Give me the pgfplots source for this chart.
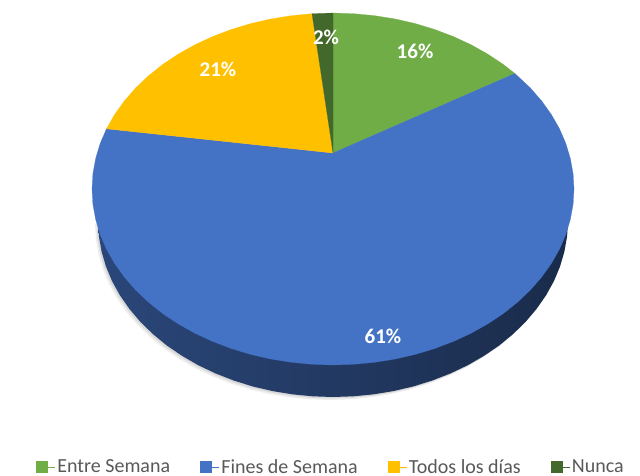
\documentclass[border=0pt]{standalone}
\usepackage{pgfplots}
\usepackage{pgfplotstable}
\usepackage{fontspec}
\setmainfont{Carlito}
\pgfplotsset{compat=1.18}
\definecolor{verde}{HTML}{70AD47}
\definecolor{azul}{HTML}{4472C4}
\definecolor{amarillo}{HTML}{FFC000}
\definecolor{oscuro}{HTML}{43682B}
\definecolor{gristexto}{HTML}{595959}

% image pixel coordinates, y downwards
\pgfplotstableread{
x y
333 153
333 13
354 13.7
374.8 15.7
395.4 19
415.4 23.6
434.8 29.5
453.5 36.6
471.2 44.8
487.9 54.2
503.4 64.5
514.9 73.5
333 153
}\entresemana

\pgfplotstableread{
x y
333 153
514.9 73.5
530.4 88
541.7 101
551.4 114.6
559.5 128.8
565.8 143.4
570.3 158.4
573.1 173.7
574 189
573.1 204.3
570.3 219.6
565.8 234.6
559.5 249.2
551.4 263.4
541.7 277
530.4 290
517.6 302.1
503.4 313.5
487.9 323.8
471.2 333.2
453.5 341.4
434.8 348.5
415.4 354.4
395.4 359
374.8 362.3
354 364.3
333 365
312 364.3
291.2 362.3
270.6 359
250.6 354.4
231.2 348.5
212.5 341.4
194.8 333.2
178.1 323.8
162.6 313.5
148.4 302.1
135.6 290
124.3 277
114.6 263.4
106.5 249.2
100.2 234.6
95.7 219.6
92.9 204.3
92 189
92.9 173.7
95.7 158.4
100.2 143.4
106.5 128.8
333 153
}\fines

\pgfplotstableread{
x y
333 153
106.5 128.8
114.6 114.6
124.3 101
135.6 88
148.4 75.9
162.6 64.5
178.1 54.2
194.8 44.8
212.5 36.6
231.2 29.5
250.6 23.6
270.6 19
291.2 15.7
312 13.7
333 153
}\todos

\pgfplotstableread{
x y
333 153
312 13.7
333 13
333 153
}\nunca

\pgfplotstableread{
x y
568 221
567.1 236.3
564.4 251.6
560 266.6
553.9 281.2
546 295.4
536.5 309
525.5 322
513 334.1
499.2 345.5
484 355.8
467.8 365.2
450.5 373.4
432.3 380.5
413.4 386.4
393.8 391
373.8 394.3
353.5 396.3
333 397
312.5 396.3
292.2 394.3
272.2 391
252.6 386.4
233.7 380.5
215.5 373.4
198.2 365.2
182 355.8
166.8 345.5
153 334.1
140.5 322
129.5 309
120 295.4
112.1 281.2
106 266.6
101.6 251.6
98.9 236.3
98 221
}\pared

\begin{document}
\begin{tikzpicture}
  \path[use as bounding box] (0,0) rectangle (640pt,475pt);
  \begin{axis}[
      scale only axis,
      width=640pt, height=475pt,
      xmin=0, xmax=640,
      ymin=0, ymax=475,
      y dir=reverse,
      hide axis,
      no markers,
      legend columns=-1,
      legend cell align=left,
      legend style={
        at={(axis cs:36,467)}, anchor=west,
        draw=none, fill=none,
        font=\fontsize{20}{20}\selectfont,
        text=gristexto,
        inner sep=0pt,
        /tikz/every even column/.append style={column sep=28pt},
      },
      legend image code/.code={
        \path (0pt,0pt) -- (19pt,0pt);
        \path[#1, draw=none] (0pt,-6pt) rectangle (12pt,6pt);
      },
    ]
    % soft shadow under the side wall
    \addplot[forget plot, draw=none, fill=black, fill opacity=0.07, shift={(-3pt,-3pt)}] table {\pared};
    \addplot[forget plot, draw=none, fill=black, fill opacity=0.09, shift={(-1.5pt,-1.5pt)}] table {\pared};
    % side wall
    \addplot[forget plot, draw=none, left color=azul!62!black, middle color=azul!48!black, right color=azul!38!black] table {\pared};

    \addplot[fill=verde, draw=verde, line width=0.2pt] table {\entresemana};
    \addplot[fill=azul, draw=azul, line width=0.2pt] table {\fines};
    \addplot[fill=amarillo, draw=amarillo, line width=0.2pt] table {\todos};
    \addplot[fill=oscuro, draw=oscuro, line width=0.2pt] table {\nunca};

    \legend{Entre Semana, Fines de Semana, Todos los días, Nunca}

    \begin{scope}[every node/.style={text=white, font=\fontsize{21}{21}\selectfont\bfseries}]
      \node at (axis cs:415,51) {16\%};
      \node at (axis cs:383,336) {61\%};
      \node at (axis cs:218,69) {21\%};
      \node at (axis cs:326,37) {2\%};
    \end{scope}
  \end{axis}
\end{tikzpicture}
\end{document}
